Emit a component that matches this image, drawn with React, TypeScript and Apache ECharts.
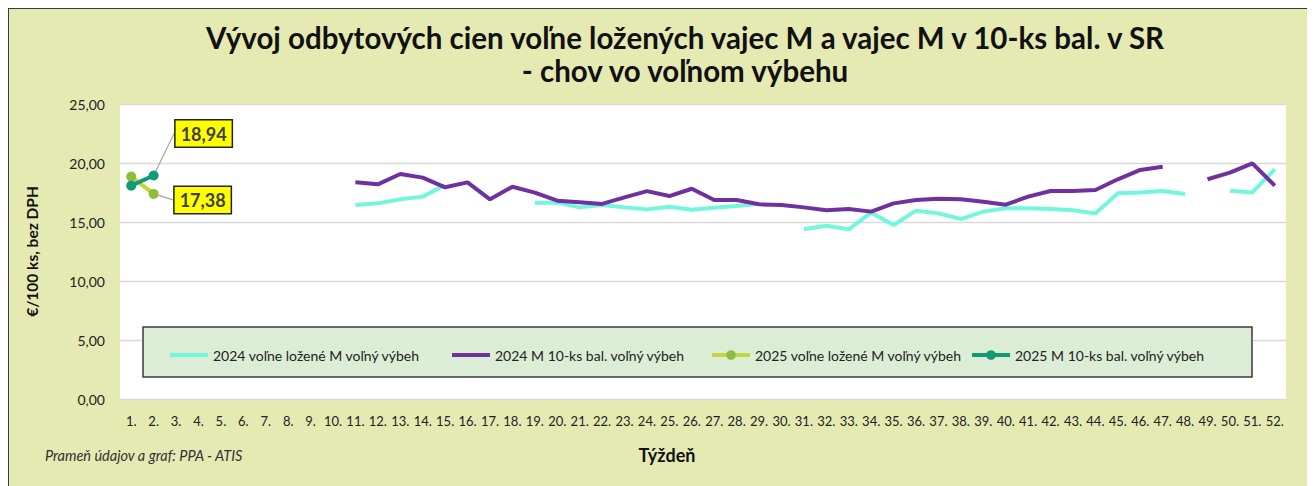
import React, { useEffect, useRef } from "react";
import * as echarts from "echarts";

const weeks: string[] = Array.from({ length: 52 }, (_, i) => `${i + 1}.`);

const loose2024: (number | null)[] = [
  null, null, null, null, null, null, null, null, null, null,
  16.44, 16.58, 16.92, 17.15, 18.14, null, null, null, 16.64, 16.64,
  16.24, 16.44, 16.24, 16.07, 16.3, 16.04, 16.2, 16.36, 16.55, null,
  14.38, 14.69, 14.38, 15.79, 14.75, 15.96, 15.73, 15.25, 15.88, 16.16,
  16.16, 16.1, 15.99, 15.73, 17.43, 17.51, 17.63, 17.37, null, 17.65,
  17.51, 19.47,
];

const pack2024: (number | null)[] = [
  null, null, null, null, null, null, null, null, null, null,
  18.36, 18.19, 19.07, 18.76, 17.94, 18.36, 16.92, 17.99, 17.49, 16.81,
  16.67, 16.53, 17.09, 17.62, 17.2, 17.82, 16.86, 16.86, 16.5, 16.44,
  16.24, 15.99, 16.1, 15.88, 16.58, 16.86, 16.98, 16.92, 16.72, 16.47,
  17.15, 17.63, 17.63, 17.71, 18.62, 19.41, 19.69, null, 18.62, 19.18,
  19.97, 18.08,
];

const loose2025: (number | null)[] = [18.85, 17.38];
const pack2025: (number | null)[] = [18.08, 18.94];

const seriesNames = [
  "2024 voľne ložené M voľný výbeh",
  "2024 M 10-ks bal. voľný výbeh",
  "2025 voľne ložené M voľný výbeh",
  "2025 M 10-ks bal. voľný výbeh",
];

const yTicks = [0, 5, 10, 15, 20, 25];

const FONT = "Lato, 'Liberation Sans', sans-serif";

const fmt = (v: number) => v.toFixed(2).replace(".", ",");

export default function App() {
  const ref = useRef<HTMLDivElement>(null);
  useEffect(() => {
    if (!ref.current) return;
    const chart = echarts.init(ref.current, null, { renderer: "svg" });

    const lastLabel = (arr: (number | null)[]) =>
      arr.map((v, i) =>
        i === arr.length - 1
          ? { value: v, label: { show: true } }
          : { value: v, label: { show: false } }
      );

    const labelStyle = {
      show: false,
      position: "right" as const,
      formatter: (p: any) => fmt(p.value),
      backgroundColor: "#ffff00",
      borderColor: "#222",
      borderWidth: 1.5,
      padding: [5, 5, 3, 5],
      color: "#404040",
      fontWeight: "bold" as const,
      fontSize: 18,
      fontFamily: FONT,
    };

    const legendBase = {
      top: 335,
      itemWidth: 38,
      itemHeight: 12,
      textStyle: { fontSize: 14, color: "#222", fontFamily: FONT },
      lineStyle: { width: 4 },
      z: 10,
    };

    chart.setOption({
      animation: false,
      backgroundColor: "#e5eab3",
      textStyle: { fontFamily: FONT },
      title: {
        text: "Vývoj odbytových cien voľne ložených vajec M a vajec M v 10-ks bal. v SR\n- chov vo voľnom výbehu",
        left: 677,
        textAlign: "center",
        top: 13,
        padding: 0,
        textStyle: {
          fontSize: 29.5,
          fontWeight: "bold",
          color: "#111",
          lineHeight: 33,
          fontFamily: FONT,
        },
      },
      graphic: [
        {
          type: "rect",
          shape: { x: 0, y: 0, width: 1400, height: 600 },
          style: { fill: "none", stroke: "#3a3a3a", lineWidth: 2 },
          z: 0,
        },
        {
          type: "rect",
          shape: { x: 135, y: 319, width: 1109, height: 50 },
          style: { fill: "#dcedd6", stroke: "#3a3a3a", lineWidth: 1.5 },
          z: 5,
        },
        {
          type: "text",
          x: 659,
          y: 447,
          style: {
            text: "Týždeň",
            fontSize: 18,
            fontWeight: "bold",
            fill: "#111",
            textAlign: "center",
            textVerticalAlign: "middle",
            fontFamily: FONT,
          },
        },
        {
          type: "text",
          x: 37,
          y: 447,
          style: {
            text: "Prameň údajov a graf: PPA - ATIS",
            fontSize: 14.5,
            fontStyle: "italic",
            fill: "#333",
            textAlign: "left",
            textVerticalAlign: "middle",
            fontFamily: FONT,
          },
        },
      ],
      legend: [
        { ...legendBase, left: 157, icon: "rect", itemHeight: 4, data: [seriesNames[0]] },
        { ...legendBase, left: 439, icon: "rect", itemHeight: 4, data: [seriesNames[1]] },
        { ...legendBase, left: 697, data: [seriesNames[2]] },
        { ...legendBase, left: 957, data: [seriesNames[3]] },
      ],
      grid: {
        left: 112,
        top: 96,
        width: 1166,
        height: 295,
        show: true,
        backgroundColor: "#ffffff",
        borderWidth: 0,
      },
      xAxis: {
        type: "category",
        data: weeks,
        boundaryGap: true,
        axisTick: { show: false },
        axisLine: { show: true, lineStyle: { color: "#d9d9d9", width: 1 } },
        axisLabel: {
          interval: 0,
          fontSize: 13,
          color: "#222",
          margin: 15,
          fontFamily: FONT,
        },
      },
      yAxis: {
        type: "value",
        min: yTicks[0],
        max: yTicks[yTicks.length - 1],
        interval: 5,
        name: "€/100 ks, bez DPH",
        nameLocation: "middle",
        nameGap: 80,
        nameTextStyle: {
          fontSize: 15.5,
          fontWeight: "bold",
          color: "#111",
          fontFamily: FONT,
        },
        axisLine: { show: false },
        axisTick: { show: false },
        axisLabel: {
          formatter: (v: number) => fmt(v),
          fontSize: 14,
          color: "#222",
          margin: 15,
          fontFamily: FONT,
        },
        splitLine: { lineStyle: { color: "#d9d9d9", width: 1.3 } },
      },
      series: [
        {
          name: seriesNames[0],
          type: "line",
          data: loose2024,
          symbol: "none",
          lineStyle: { color: "#72f7dc", width: 4 },
          itemStyle: { color: "#72f7dc" },
          z: 3,
        },
        {
          name: seriesNames[1],
          type: "line",
          data: pack2024,
          symbol: "none",
          lineStyle: { color: "#7030a0", width: 4 },
          itemStyle: { color: "#7030a0" },
          z: 4,
        },
        {
          name: seriesNames[2],
          type: "line",
          data: lastLabel(loose2025),
          symbol: "circle",
          symbolSize: 10,
          lineStyle: { color: "#c3d640", width: 4 },
          itemStyle: { color: "#8fbc3c" },
          label: labelStyle,
          labelLine: { show: true, lineStyle: { color: "#a6a6a6", width: 1.2 } },
          labelLayout: { dx: 11, dy: 6 },
          z: 5,
        },
        {
          name: seriesNames[3],
          type: "line",
          data: lastLabel(pack2025),
          symbol: "circle",
          symbolSize: 10,
          lineStyle: { color: "#0f9a78", width: 4 },
          itemStyle: { color: "#0f9a78" },
          label: labelStyle,
          labelLine: { show: true, lineStyle: { color: "#a6a6a6", width: 1.2 } },
          labelLayout: { dx: 12, dy: -42 },
          z: 6,
        },
      ],
    });
    return () => chart.dispose();
  }, []);

  return <div ref={ref} style={{ width: 1307, height: 478 }} />;
}
